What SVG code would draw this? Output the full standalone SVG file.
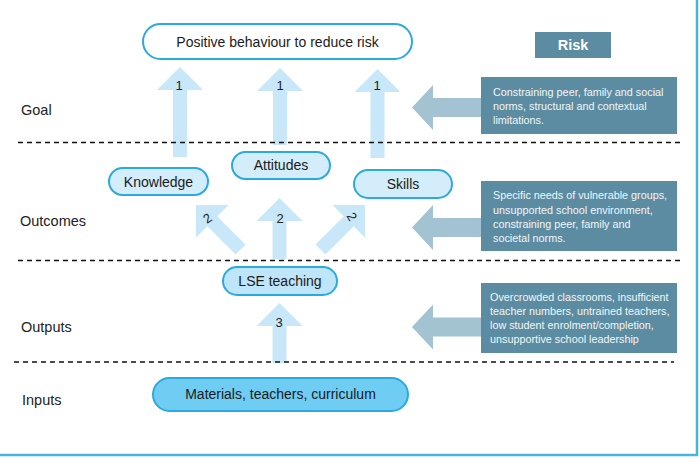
<svg xmlns="http://www.w3.org/2000/svg" width="700" height="476" viewBox="0 0 700 476">
<style>
text{font-family:"Liberation Sans",Arial,sans-serif;}
.lbl{font-size:14.5px;fill:#222;}
.nt{font-size:14px;fill:#1a1a1a;text-anchor:middle;}
.num{font-size:13px;fill:#222;text-anchor:middle;}
.node{stroke:#2aaae0;stroke-width:2;}
.up{fill:#c8e7f8;}
.rarr{fill:#a3c2d2;}
.rbox{fill:#5c8ca1;}
.rt{font-size:10.8px;fill:#f2f6f8;}
.dash{stroke:#111;stroke-width:1.4;stroke-dasharray:5 4;fill:none;}
</style>
<rect width="700" height="476" fill="#fff"/>
<path d="M0 455 H697 V0" fill="none" stroke="#45b6dd" stroke-width="2.5"/>

<g id="connectors">
  <polygon class="up" points="180,67 203,90 187,90 187,157 173,157 173,90 157,90"/>
  <polygon class="up" points="280,68 303,91 287,91 287,145 273,145 273,91 257,91"/>
  <polygon class="up" points="377.5,69 400.5,92 384.5,92 384.5,158 370.5,158 370.5,92 354.5,92"/>
  <polygon class="up" points="279.5,198 302.5,221 286.5,221 286.5,259 272.5,259 272.5,221 256.5,221"/>
  <g transform="translate(196,205) rotate(-45)"><polygon class="up" points="0,0 23,23 7,23 7,63 -7,63 -7,23 -23,23"/></g>
  <g transform="translate(365,205) rotate(45)"><polygon class="up" points="0,0 23,23 7,23 7,63 -7,63 -7,23 -23,23"/></g>
  <polygon class="up" points="279.5,303 302.5,326 286.5,326 286.5,363 272.5,363 272.5,326 256.5,326"/>
  <text class="num" x="179" y="90">1</text>
  <text class="num" x="280" y="90">1</text>
  <text class="num" x="377" y="90">1</text>
  <text class="num" x="280" y="223">2</text>
  <text class="num" transform="translate(210,222) rotate(-35)">2</text>
  <text class="num" transform="translate(348,219) rotate(60)">2</text>
  <text class="num" x="279" y="327">3</text>
  <polygon class="rarr" points="412,107.5 433,85 433,98 482,98 482,117 433,117 433,130"/>
  <polygon class="rarr" points="412,227.5 433,205 433,218 482,218 482,237 433,237 433,250"/>
  <polygon class="rarr" points="412,327 433,304.5 433,317.5 482,317.5 482,336.5 433,336.5 433,349.5"/>
</g>

<g id="dividers">
  <line class="dash" x1="18" y1="142.5" x2="680" y2="142.5"/>
  <line class="dash" x1="18" y1="260.5" x2="680" y2="260.5"/>
  <line class="dash" x1="14" y1="362" x2="674" y2="362"/>
</g>

<g id="level-labels">
  <text class="lbl" x="21" y="115">Goal</text>
  <text class="lbl" x="20" y="226">Outcomes</text>
  <text class="lbl" x="21" y="332">Outputs</text>
  <text class="lbl" x="22" y="405">Inputs</text>
</g>

<g id="goal">
  <rect class="node" x="143" y="24" width="269" height="35" rx="17.5" fill="#fff"/>
  <text class="nt" x="277.5" y="46.5">Positive behaviour to reduce risk</text>
</g>
<g id="knowledge">
  <rect class="node" x="109" y="168" width="99" height="27" rx="13.5" fill="#d3edfb"/>
  <text class="nt" x="158.5" y="186.5">Knowledge</text>
</g>
<g id="attitudes">
  <rect class="node" x="232" y="152" width="98" height="27" rx="13.5" fill="#d3edfb"/>
  <text class="nt" x="281" y="170">Attitudes</text>
</g>
<g id="skills">
  <rect class="node" x="354" y="170" width="98" height="28" rx="14" fill="#d3edfb"/>
  <text class="nt" x="403" y="189">Skills</text>
</g>
<g id="lse-teaching">
  <rect class="node" x="223" y="267" width="114" height="28" rx="14" fill="#bfe5f8"/>
  <text class="nt" x="280" y="286">LSE teaching</text>
</g>
<g id="inputs">
  <rect class="node" x="153" y="378" width="255" height="33" rx="16.5" fill="#6fcdf4"/>
  <text class="nt" x="280.5" y="399">Materials, teachers, curriculum</text>
</g>

<g id="risk-header">
  <rect class="rbox" x="535" y="32" width="76" height="26"/>
  <text x="573" y="50" font-size="14.5" font-weight="bold" fill="#fff" text-anchor="middle">Risk</text>
</g>
<g id="risk-goal">
  <rect class="rbox" x="481" y="77" width="196" height="57"/>
  <text class="rt" x="493" y="96">Constraining peer, family and social</text>
  <text class="rt" x="493" y="110">norms, structural and contextual</text>
  <text class="rt" x="493" y="124">limitations.</text>
</g>
<g id="risk-outcomes">
  <rect class="rbox" x="481" y="181" width="196" height="70"/>
  <text class="rt" x="493" y="199">Specific needs of vulnerable groups,</text>
  <text class="rt" x="493" y="213.5">unsupported school environment,</text>
  <text class="rt" x="493" y="227.5">constraining peer, family and</text>
  <text class="rt" x="493" y="241.5">societal norms.</text>
</g>
<g id="risk-outputs">
  <rect class="rbox" x="481" y="283" width="196" height="70"/>
  <text class="rt" x="490" y="301">Overcrowded classrooms, insufficient</text>
  <text class="rt" x="490" y="315">teacher numbers, untrained teachers,</text>
  <text class="rt" x="490" y="329">low student enrolment/completion,</text>
  <text class="rt" x="490" y="343">unsupportive school leadership</text>
</g>
</svg>
